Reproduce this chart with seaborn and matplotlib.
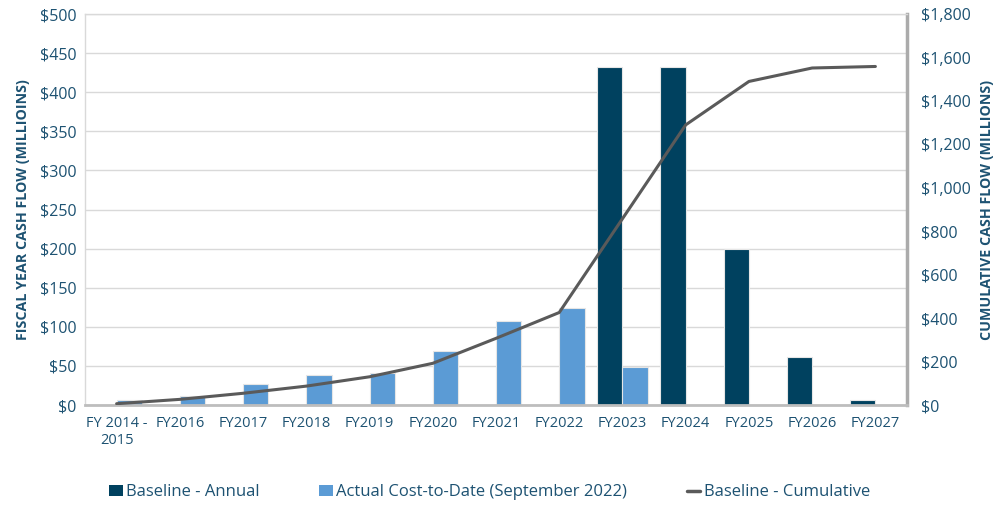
import numpy as np
import pandas as pd
import seaborn as sns
from matplotlib import pyplot as plt
from matplotlib.lines import Line2D
from matplotlib.patches import Patch

# --- data ($ millions) ---
years = ["FY 2014 -\n2015", "FY2016", "FY2017", "FY2018", "FY2019", "FY2020",
         "FY2021", "FY2022", "FY2023", "FY2024", "FY2025", "FY2026", "FY2027"]
baseline_annual = [np.nan] * 8 + [432, 433, 199, 62, 7]
actual_to_date = [7, 11.5, 26.5, 38.5, 40.5, 69.5, 107.5, 124.5, 49,
                  np.nan, np.nan, np.nan, np.nan]
baseline_cumulative = [6, 26, 54, 87, 130, 192, 307, 426, 858, 1290, 1490, 1552, 1559]

series_names = ["Baseline - Annual", "Actual Cost-to-Date (September 2022)"]
line_name = "Baseline - Cumulative"

DARK = "#00415F"
LIGHT = "#5B9BD5"
LINE = "#5A5A5A"
TEXT = "#1D5272"

sns.set_theme(style="white")
plt.rcParams["font.family"] = ["Open Sans", "DejaVu Sans"]

bars = pd.DataFrame({
    "year": years * 2,
    "value": baseline_annual + actual_to_date,
    "series": [series_names[0]] * len(years) + [series_names[1]] * len(years),
})
cum = pd.DataFrame({"year": years, "value": baseline_cumulative})

fig = plt.figure(figsize=(9.93, 5.05), dpi=100)
ax = fig.add_axes([0.0856, 0.198, 0.8278, 0.774])

sns.barplot(data=bars, x="year", y="value", hue="series", order=years,
            hue_order=series_names, palette=[DARK, LIGHT], saturation=1,
            width=0.8, edgecolor="#E6E6E6", linewidth=0.8, ax=ax, legend=False)

ax.set_ylim(0, 500)
ax.set_yticks(range(0, 501, 50))
ax.set_yticklabels([f"${v}" for v in range(0, 501, 50)])
ax.set_xlim(-0.5, len(years) - 0.5)
ax.yaxis.grid(True, color="#D9D9D9", linewidth=1)
ax.set_axisbelow(True)
ax.set_xlabel("")
ax.set_ylabel("FISCAL YEAR CASH FLOW (MILLIOINS)", fontsize=10.3,
              fontweight="bold", color=TEXT, labelpad=7)
ax.tick_params(axis="y", length=0, labelsize=11.5, colors=TEXT, pad=6)
ax.tick_params(axis="x", length=0, labelsize=10.5, colors=TEXT, pad=8)

for side in ("top", "left"):
    ax.spines[side].set_color("#D9D9D9")
    ax.spines[side].set_linewidth(1)
ax.spines["bottom"].set_color("#BDBDBD")
ax.spines["bottom"].set_linewidth(2)
ax.spines["right"].set_color("#ABABAB")
ax.spines["right"].set_linewidth(2.5)

ax2 = ax.twinx()
sns.lineplot(data=cum, x="year", y="value", sort=False, color=LINE,
             linewidth=2.2, ax=ax2)
ax2.set_ylim(0, 1800)
ax2.set_yticks(range(0, 1801, 200))
ax2.set_yticklabels([f"${v:,}" for v in range(0, 1801, 200)])
ax2.set_xlim(-0.5, len(years) - 0.5)
ax2.set_ylabel("CUMULATIVE CASH FLOW (MILLIONS)", fontsize=10.3,
               fontweight="bold", color=TEXT, labelpad=7)
ax2.tick_params(axis="y", length=0, labelsize=11.5, colors=TEXT, pad=10)
for side in ax2.spines:
    ax2.spines[side].set_visible(False)

handles = [
    Patch(facecolor=DARK, edgecolor="none"),
    Patch(facecolor=LIGHT, edgecolor="none"),
    Line2D([], [], color=LINE, linewidth=2.5),
]
fig.legend(handles, series_names + [line_name], loc="center",
           bbox_to_anchor=(0.493, 0.025), ncol=3, frameon=False,
           fontsize=12, labelcolor=TEXT, columnspacing=3.6,
           handlelength=0.8, handletextpad=0.2)

fig.savefig("out.png", dpi=100)
